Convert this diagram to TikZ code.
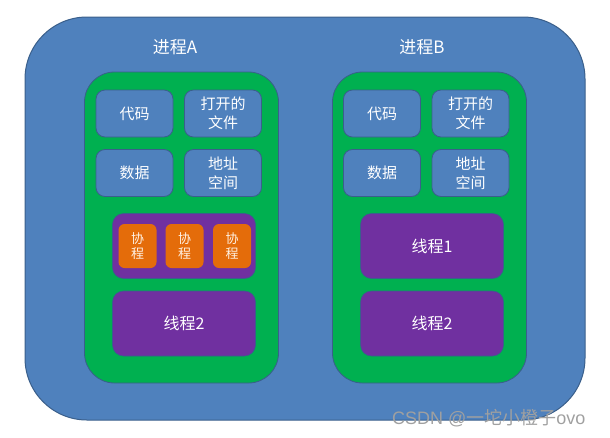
\documentclass[tikz,border=0pt]{standalone}
\usepackage{fontspec}
\setmainfont{Carlito}
\newfontfamily\zh{Noto Sans CJK SC}
\newfontfamily\wmfont{Liberation Sans}

\definecolor{procblue}{HTML}{4F81BD}
\definecolor{procline}{HTML}{3A5F8B}
\definecolor{resgreen}{HTML}{00B050}
\definecolor{thrpurple}{HTML}{7030A0}
\definecolor{coorange}{HTML}{E46C0A}
\definecolor{wmgray}{HTML}{A0A0A0}

\begin{document}
\begin{tikzpicture}[
  x=1pt, y=-1pt,
  proc/.style={draw=procline, fill=procblue, line width=1pt, rounded corners=62pt, minimum width=560pt, minimum height=403pt},
  res/.style={draw=procline, fill=resgreen, line width=0.8pt, rounded corners=30pt, minimum width=194pt, minimum height=311pt},
  item/.style={draw=procline, fill=procblue, line width=0.8pt, rounded corners=9pt, minimum width=77pt, minimum height=47pt, inner sep=0pt, align=center, text=white, font=\zh\fontsize{15}{19}\selectfont},
  thread/.style={draw=procline, fill=thrpurple, line width=0.6pt, rounded corners=11pt, minimum width=143pt, minimum height=65pt, inner sep=0pt, text=white, font=\zh\fontsize{16}{19}\selectfont},
  coro/.style={fill=coorange, rounded corners=6pt, minimum width=38pt, minimum height=44pt, inner sep=0pt, align=center, text=white!90!orange, font=\zh\fontsize{13}{15}\selectfont},
  title/.style={text=white, font=\zh\fontsize{17}{20}\selectfont}
]
\useasboundingbox (0,0) rectangle (610,437);

\node[proc] (procs) at (305,218.5) {};
\node[title] (titleA) at (175,47) {进程A};
\node[title] (titleB) at (422,47) {进程B};

% process A
\node[res] (resA) at (181.5,227.5) {};
\node[item] (codeA) at (134.5,113.5) {代码};
\node[item] (fileA) at (223,113.5) {打开的\\文件};
\node[item] (dataA) at (134.5,173) {数据};
\node[item] (addrA) at (223,173) {地址\\空间};
\node[thread] (thr1A) at (184,246) {};
\node[coro] (coA1) at (137.5,246) {协\\程};
\node[coro] (coA2) at (184.5,246) {协\\程};
\node[coro] (coA3) at (232,246) {协\\程};
\node[thread] (thr2A) at (184,323.5) {线程2};

% process B
\node[res] (resB) at (429.5,227.5) {};
\node[item] (codeB) at (382,113.5) {代码};
\node[item] (fileB) at (470.5,113.5) {打开的\\文件};
\node[item] (dataB) at (382,173) {数据};
\node[item] (addrB) at (470.5,173) {地址\\空间};
\node[thread] (thr1B) at (432,246) {线程1};
\node[thread] (thr2B) at (432,323.5) {线程2};

\node[anchor=west, inner sep=0pt, text=wmgray, font=\fontsize{18}{20}\selectfont] (mark) at (392,418) {\wmfont CSDN @\zh 一坨小橙子\wmfont ovo};
\end{tikzpicture}
\end{document}
